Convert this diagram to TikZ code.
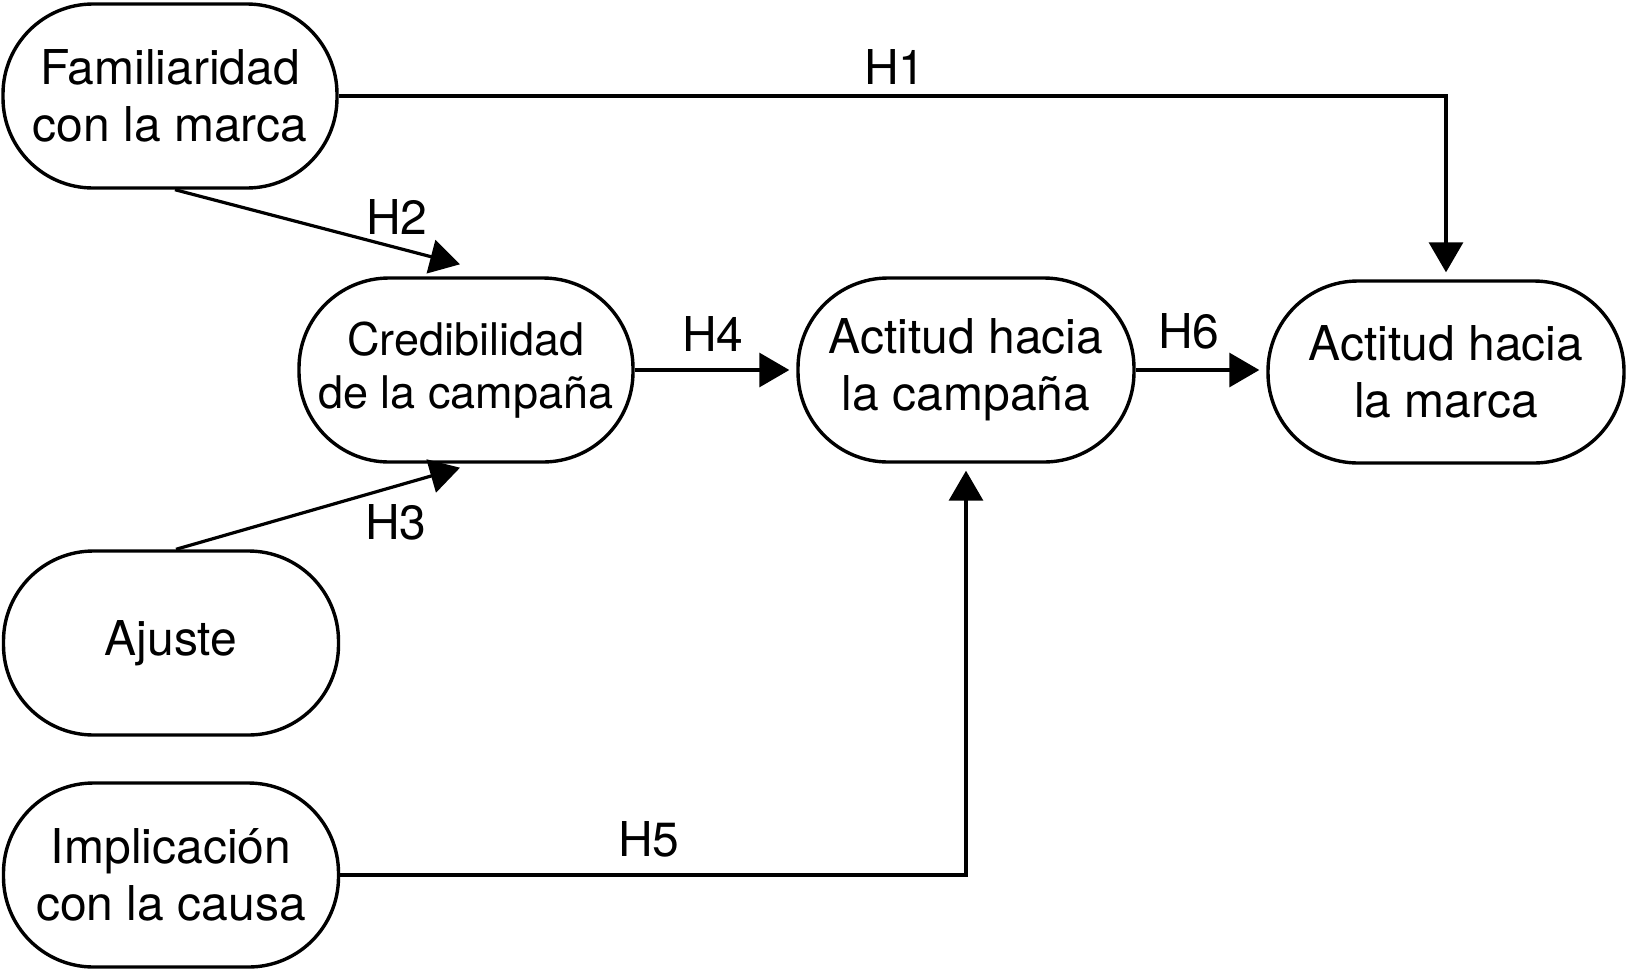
\documentclass[tikz,border=0pt]{standalone}
\usepackage{fontspec}
\setmainfont{TeX Gyre Heros}
\usetikzlibrary{arrows.meta,calc}
\begin{document}
\begin{tikzpicture}[x=1pt,y=-1pt,
  box/.style={draw, line width=3.4pt, rectangle, rounded corners=90pt,
    minimum height=184pt, align=center, inner sep=0pt,
    font=\fontsize{48}{57}\selectfont},
  arr/.style={line width=3.2pt, -{Triangle[length=30pt,width=34pt]}, shorten >=7pt},
  lab/.style={font=\fontsize{48}{57}\selectfont, inner sep=0pt}]
\useasboundingbox (0,0) rectangle (1628,970);
\node[box, minimum width=334pt] (fam) at (170,96) {Familiaridad\\con la marca};
\node[box, minimum width=334pt, font=\fontsize{45}{53}\selectfont] (cred) at (466,370) {Credibilidad\\de la campaña};
\node[box, minimum width=336pt] (acamp) at (966,370) {Actitud hacia\\la campaña};
\node[box, minimum width=356pt, minimum height=182pt] (amarca) at (1446,372) {Actitud hacia\\la marca};
\node[box, minimum width=335pt] (ajuste) at (171,643) {Ajuste};
\node[box, minimum width=335pt] (impl) at (171,875) {Implicación\\con la causa};

\draw[arr] (fam.east) -| (amarca.north);
\draw[arr, shorten >=0pt] ($(fam.south)+(5,0)$) -- ($(cred.north)+(-6,-12)$);
\draw[arr, shorten >=0pt] ($(ajuste.north)+(5,0)$) -- ($(cred.south)+(-6,4)$);
\draw[arr] (cred.east) -- (acamp.west);
\draw[arr] (acamp.east) -- (acamp.east -| amarca.west);
\draw[arr] (impl.east) -| (acamp.south);

\node[lab] (h1) at (895,67) {H1};
\node[lab] (h2) at (397,217) {H2};
\node[lab] (h3) at (396,522) {H3};
\node[lab] (h4) at (713,334) {H4};
\node[lab] (h5) at (649,839) {H5};
\node[lab] (h6) at (1189,331) {H6};
\end{tikzpicture}
\end{document}
